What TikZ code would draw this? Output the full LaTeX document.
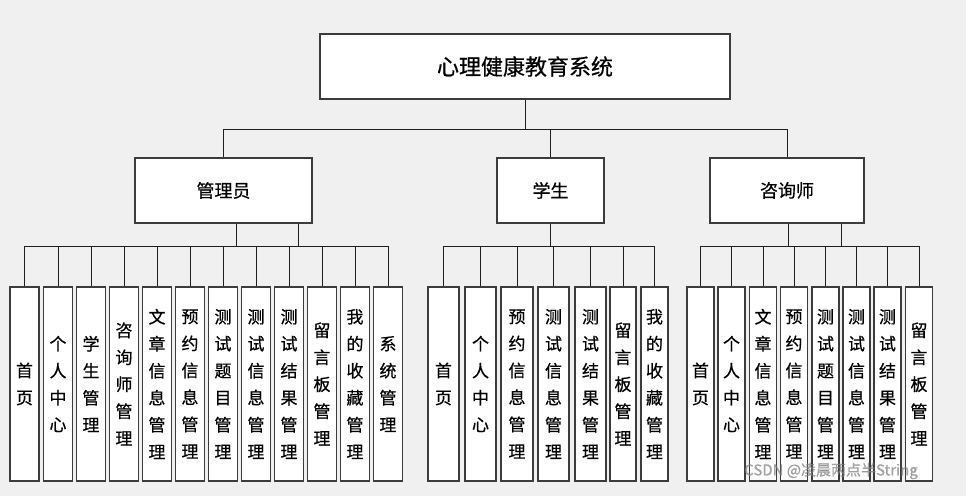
\documentclass[tikz,border=0pt]{standalone}
\usepackage{fontspec}
\setmainfont{Noto Sans CJK SC}[FakeBold=0.6]
\definecolor{bgGray}{HTML}{F0F0F0}
\definecolor{boxLine}{HTML}{3C3C3C}
\definecolor{linkLine}{HTML}{1E1E1E}

\begin{document}
\begin{tikzpicture}
[x=1pt,y=-1pt,
  sysBox/.style={draw=boxLine,fill=white,line width=1.3pt,inner sep=0pt,
    minimum width=410pt,minimum height=65pt,font=\fontsize{22}{26}\selectfont},%
  roleBox/.style={draw=boxLine,fill=white,line width=1.3pt,inner sep=0pt,
    minimum height=65pt,font=\fontsize{18}{21}\selectfont},%
  leafBox/.style={draw=boxLine,fill=white,line width=1.3pt,inner sep=0pt,
    minimum height=194pt,align=center,font=\fontsize{17}{27}\selectfont},%
  linkLine/.style={draw=linkLine,line width=1pt}]
%% background and page size
\fill[bgGray] (0,0) rectangle (966,496);
\useasboundingbox (0,0) rectangle (966,496);
%% the system and the three roles
\node[sysBox] (sys) at (525,66.5) {心理健康教育系统};
\foreach \nodename/\x/\w/\txt in {admin/223.5/177/管理员, student/550.5/107/学生,
  counselor/787/154/咨询师}
{
  \node[roleBox,minimum width=\w] (\nodename) at (\x,190.5) {\txt};
}
%% the leaves of each role
\foreach \nodename/\x/\w/\txt in {a1/24.5/29/{首\\页}, a2/58/29/{个\\人\\中\\心},
  a3/91/29/{学\\生\\管\\理}, a4/124/29/{咨\\询\\师\\管\\理},
  a5/157/29/{文\\章\\信\\息\\管\\理}, a6/190/29/{预\\约\\信\\息\\管\\理},
  a7/223/29/{测\\试\\题\\目\\管\\理}, a8/256/29/{测\\试\\信\\息\\管\\理},
  a9/289/29/{测\\试\\结\\果\\管\\理}, a10/322/29/{留\\言\\板\\管\\理},
  a11/355/29/{我\\的\\收\\藏\\管\\理}, a12/388/29/{系\\统\\管\\理},
  s1/443.5/31/{首\\页}, s2/480.5/31/{个\\人\\中\\心},
  s3/517/32/{预\\约\\信\\息\\管\\理}, s4/553.5/31/{测\\试\\信\\息\\管\\理},
  s5/590.5/31/{测\\试\\结\\果\\管\\理}, s6/623/26/{留\\言\\板\\管\\理},
  s7/654.5/27/{我\\的\\收\\藏\\管\\理},
  c1/700.5/27/{首\\页}, c2/731.5/27/{个\\人\\中\\心},
  c3/763/27/{文\\章\\信\\息\\管\\理}, c4/794/27/{预\\约\\信\\息\\管\\理},
  c5/825.5/27/{测\\试\\题\\目\\管\\理}, c6/856.5/27/{测\\试\\信\\息\\管\\理},
  c7/887.5/27/{测\\试\\结\\果\\管\\理}, c8/919/27/{留\\言\\板\\管\\理}}
{
  \node[leafBox,minimum width=\w] (\nodename) at (\x,384) {\txt};
}
%% system to roles
\foreach \v in {admin,student,counselor}
{
  \draw[linkLine] (sys.south) -- ++(0,30) -| (\v.north);
}
%% roles to leaves
\draw[linkLine] ([xshift=12.5pt]admin.south) -- ++(0,23) coordinate (abus);
\draw[linkLine] ([xshift=74.5pt]admin.south) -- ++(0,23);
\foreach \i in {1,...,12}
{
  \draw[linkLine] (abus) -| (a\i.north);
}
\draw[linkLine] (student.south) -- ++(0,23) coordinate (sbus);
\foreach \i in {1,...,7}
{
  \draw[linkLine] (sbus) -| (s\i.north);
}
\draw[linkLine] ([xshift=1pt]counselor.south) -- ++(0,23) coordinate (cbus);
\draw[linkLine] ([xshift=54pt]counselor.south) -- ++(0,23);
\foreach \i in {1,...,8}
{
  \draw[linkLine] (cbus) -| (c\i.north);
}
%% watermark
\node[text=gray,opacity=0.7,font=\fontsize{15}{18}\selectfont] (mark) at (831,471)
  {CSDN @凌晨两点半String};
\end{tikzpicture}
\end{document}
